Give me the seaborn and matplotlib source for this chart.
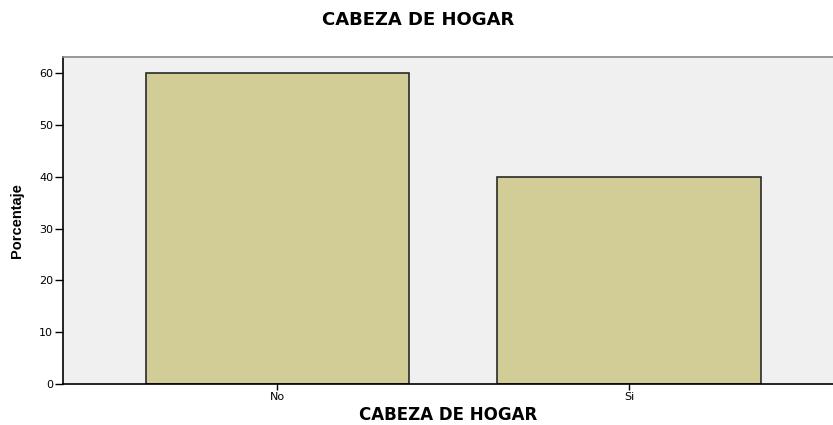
import matplotlib
matplotlib.use('Agg')
import matplotlib.pyplot as plt
import seaborn as sns
import pandas as pd

categories = ['No', 'Si']
percentages = [60, 40]
yticks = [0, 10, 20, 30, 40, 50, 60]

df = pd.DataFrame({'CABEZA DE HOGAR': categories, 'Porcentaje': percentages})

sns.set_style('white')
plt.rcParams['font.family'] = ['DejaVu Sans']
plt.rcParams['text.color'] = 'black'
plt.rcParams['axes.labelcolor'] = 'black'
plt.rcParams['xtick.color'] = 'black'
plt.rcParams['ytick.color'] = 'black'

fig = plt.figure(figsize=(8.33, 4.25), dpi=100)
ax = fig.add_axes([0.0756, 0.0965, 0.9244, 0.7695])
ax.set_facecolor('#F0F0F0')

sns.barplot(data=df, x='CABEZA DE HOGAR', y='Porcentaje', color='#D2CD96',
            edgecolor='#2a2a2a', linewidth=1.2, width=0.75, saturation=1, ax=ax)

ax.set_xlim(-0.61, 1.58)
ax.set_ylim(0, 63.1)
ax.set_yticks(yticks)
ax.tick_params(axis='y', direction='out', length=6, width=1,
               labelsize=8, pad=1, left=True)
ax.tick_params(axis='x', direction='out', length=4, width=1,
               labelsize=8, pad=2, bottom=True)

for side in ['left', 'bottom']:
    ax.spines[side].set_color('black')
    ax.spines[side].set_linewidth(1.2)
ax.spines['top'].set_color('#888888')
ax.spines['top'].set_linewidth(1.2)
ax.spines['right'].set_visible(False)

ax.set_xlabel('CABEZA DE HOGAR', fontsize=12, fontweight='bold')
ax.xaxis.set_label_coords(0.5, -0.068)
ax.set_ylabel('Porcentaje', fontsize=10.5, fontweight='bold',
              family=['Liberation Sans Narrow', 'Liberation Sans', 'DejaVu Sans'])
ax.yaxis.set_label_coords(-0.051, 0.5)
fig.text(0.502, 0.953, 'CABEZA DE HOGAR', ha='center', va='center',
         fontsize=13, fontweight='bold')

fig.savefig('out.png', dpi=100)
